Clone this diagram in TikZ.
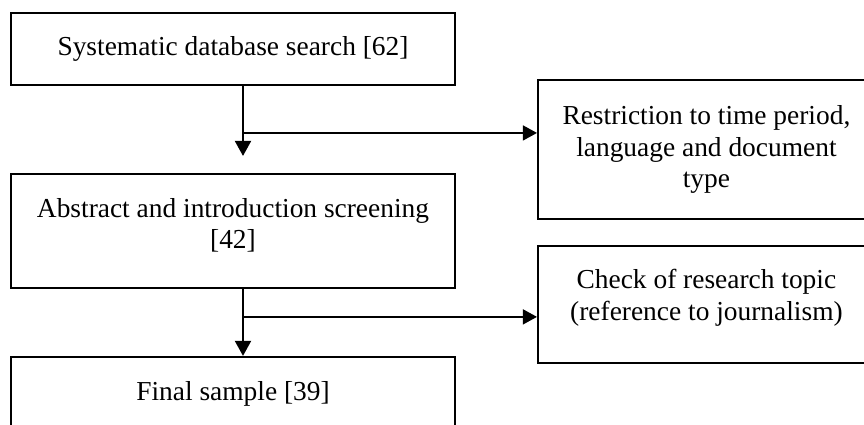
\documentclass[tikz,border=0pt]{standalone}
\usepackage{fontspec}
\setmainfont{Liberation Serif}
\usetikzlibrary{positioning,arrows.meta}

\begin{document}
\begin{tikzpicture}[
  stepbox/.style={rectangle, draw, line width=1.1pt, align=center, font=\fontsize{15.6}{17.9}\selectfont},
  mainbox/.style={stepbox, minimum width=8.88cm},
  sidebox/.style={stepbox, minimum width=6.74cm},
  arrow/.style={-{Triangle[length=3mm, width=3.2mm]}, line width=1.1pt},
  branch/.style={-{Triangle[length=2.8mm, width=3mm]}, line width=0.75pt},
]
\useasboundingbox (0,0) rectangle (17.28,8.5);

% === Main selection steps ===
\node[mainbox, minimum height=1.44cm] (search) at (4.66,7.52) {Systematic database search [62]};
\node[mainbox, minimum height=2.28cm, text depth=0.3cm, below=1.74cm of search] (screen) {Abstract and introduction screening\\{[42]}};
\node[mainbox, minimum height=1.48cm, below=1.34cm of screen] (final) {Final sample [39]};

% === Exclusion criteria ===
\node[sidebox, minimum height=2.78cm, below right=1.34cm and 1.62cm of search.north east] (restrict) {Restriction to time period,\\language and document\\type};
\node[sidebox, minimum height=2.34cm, text depth=0.38cm, below=0.5cm of restrict.south west, anchor=north west] (topic) {Check of research topic\\(reference to journalism)};

% === Arrows ===
\draw[arrow, shorten >=0.34cm] ([xshift=2mm]search.south) -- ([xshift=2mm]screen.north);
\coordinate (fork1) at ([xshift=2mm, yshift=-0.94cm]search.south);
\draw[branch] (fork1) -- (fork1 -| restrict.west);

\draw[arrow] ([xshift=2mm]screen.south) -- ([xshift=2mm]final.north);
\coordinate (fork2) at ([xshift=2mm, yshift=-0.56cm]screen.south);
\draw[branch] (fork2) -- (fork2 -| topic.west);

\end{tikzpicture}
\end{document}
